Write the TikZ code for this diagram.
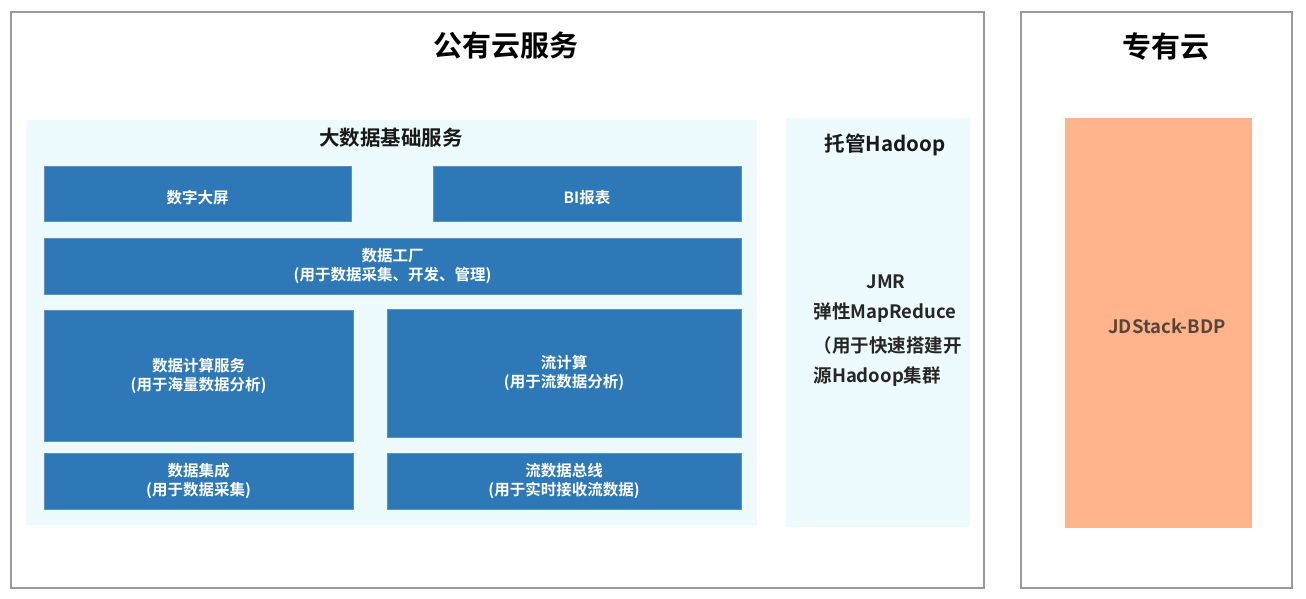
\documentclass[tikz,border=0pt]{standalone}
\usepackage{fontspec}
\setmainfont{Noto Sans CJK SC}
\newfontfamily\cjkb{Noto Sans CJK SC Bold}
\definecolor{frame}{HTML}{9A9A9A}
\definecolor{panel}{HTML}{EEFBFE}
\definecolor{bluebox}{HTML}{2E78B8}
\definecolor{orangebox}{HTML}{FFB48C}
\definecolor{ortext}{HTML}{5A4438}
\tikzset{
  outerbox/.style={draw=frame, line width=1.5pt, fill=white},
  panelbox/.style={fill=panel, draw=none},
  svc/.style={fill=bluebox, draw=bluebox!80!white, line width=0.6pt, text=white, font=\cjkb\fontsize{15.5}{19}\selectfont, align=center},
  svctext/.style={text=white, font=\cjkb\fontsize{15.5}{19}\selectfont, align=center},
  title/.style={font=\cjkb\fontsize{29}{34}\selectfont, text=black},
  subtitle/.style={font=\cjkb\fontsize{20.5}{24}\selectfont, text=black!90},
  htext/.style={font=\cjkb\fontsize{18.5}{22}\selectfont, text=black!85, anchor=west},
}
\begin{document}
\begin{tikzpicture}[x=1pt,y=-1pt]
\useasboundingbox (0,0) rectangle (1306,598);
\fill[white] (0,0) rectangle (1306,598);
% outer frames
\draw[outerbox] (11,12) rectangle (984,588);
\draw[outerbox] (1021,12) rectangle (1292,588);
\node[title] (t1) at (506,46) {公有云服务};
\node[title] (t2) at (1166,46) {专有云};
% panels
\fill[panelbox] (26,120) rectangle (757,525);
\fill[panelbox] (786,118) rectangle (970,527);
\node[subtitle] (st) at (391,138) {大数据基础服务};
% blue boxes
\node[svc, minimum width=307pt, minimum height=55pt] (a) at (197.5,193.5) {};
\node[svctext] (at) at ([yshift=-4pt]a.center) {数字大屏};
\node[svc, minimum width=308pt, minimum height=55pt] (b) at (587,193.5) {};
\node[svctext] (bt) at ([yshift=-4pt]b.center) {BI报表};
\node[svc, minimum width=697pt, minimum height=56pt] (c) at (392.5,266) {数据工厂\\(用于数据采集、开发、管理)};
\node[svc, minimum width=309pt, minimum height=131pt] (d) at (198.5,375.5) {数据计算服务\\(用于海量数据分析)};
\node[svc, minimum width=354pt, minimum height=128pt] (e) at (564,373) {流计算\\(用于流数据分析)};
\node[svc, minimum width=309pt, minimum height=56pt] (f) at (198.5,481) {数据集成\\(用于数据采集)};
\node[svc, minimum width=354pt, minimum height=56pt] (g) at (564,481) {流数据总线\\(用于实时接收流数据)};
% hadoop
\node[subtitle] (h0) at (885,145) {托管Hadoop};
\node[font=\cjkb\fontsize{18.5}{22}\selectfont, text=black!85] (h1) at (886,282) {JMR};
\node[htext] (h2) at (810,313) {弹性MapReduce};
\node[htext] (h3) at (810,345) {（用于快速搭建开};
\node[htext] (h4) at (810,377) {源Hadoop集群};
% orange
\node[fill=orangebox, minimum width=187pt, minimum height=410pt, inner sep=0pt] (o) at (1158.5,323) {};
\node[font=\cjkb\fontsize{18.5}{22}\selectfont, text=ortext] (ot) at (1167,326) {JDStack-BDP};
\end{tikzpicture}
\end{document}
